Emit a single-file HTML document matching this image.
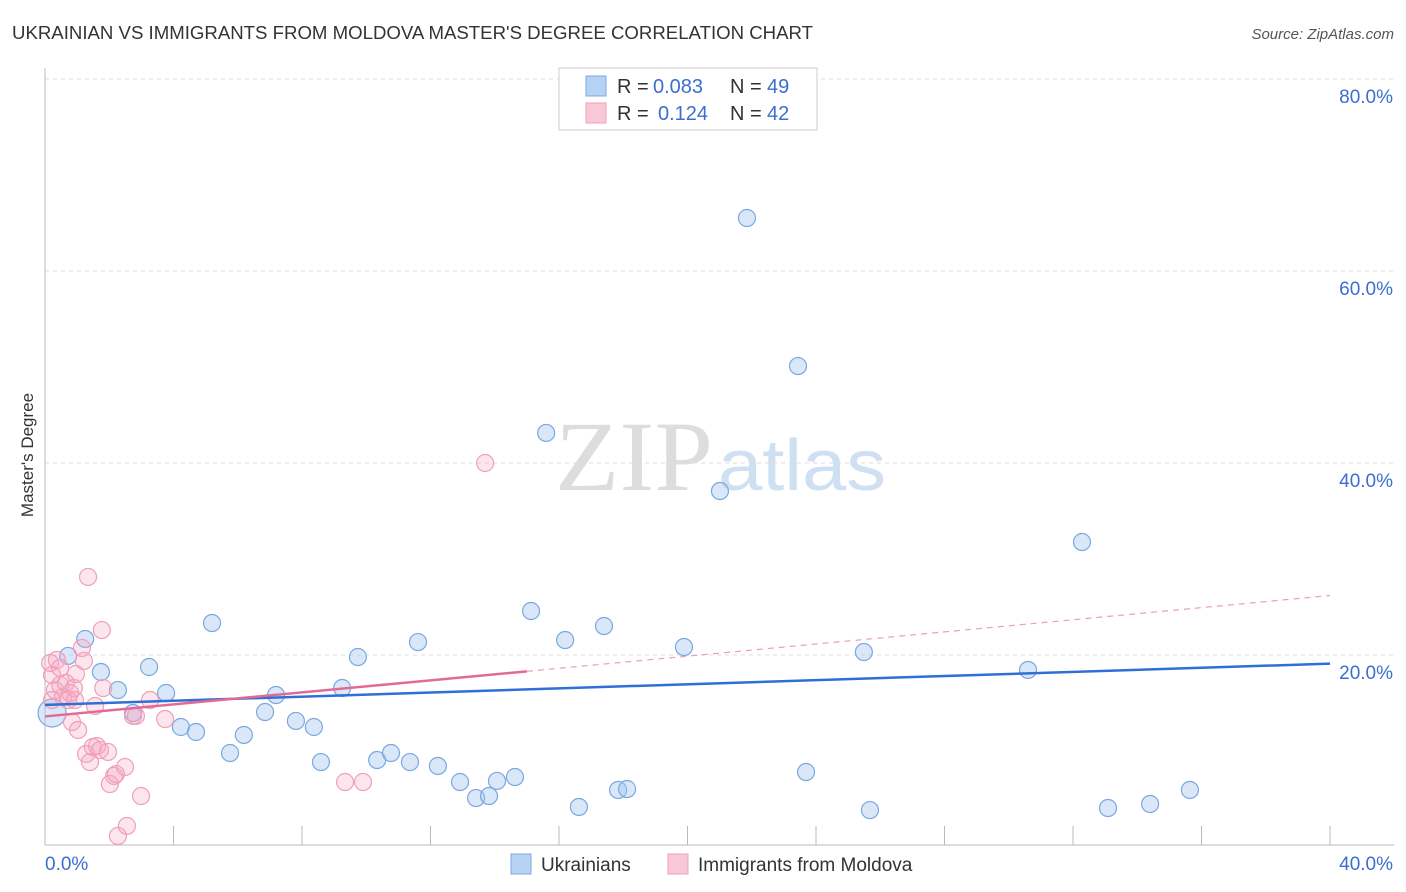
<!DOCTYPE html>
<html><head><meta charset="utf-8"><style>
body{margin:0;background:#fff;font-family:"Liberation Sans",sans-serif}
svg{display:block}
</style></head><body>
<svg id="c" width="1406" height="892">
<text x="12" y="39" font-size="18" fill="#333" textLength="801" lengthAdjust="spacingAndGlyphs">UKRAINIAN VS IMMIGRANTS FROM MOLDOVA MASTER'S DEGREE CORRELATION CHART</text>
<text x="1394" y="39" font-size="15" fill="#555" font-style="italic" text-anchor="end">Source: ZipAtlas.com</text>
<text x="0" y="0" transform="translate(33,455) rotate(-90)" font-size="17" fill="#333" text-anchor="middle">Master's Degree</text>
<g><text x="634" y="490" font-size="100" fill="#ddd" font-family="Liberation Serif" text-anchor="middle" textLength="158" lengthAdjust="spacingAndGlyphs">ZIP</text><text x="802" y="490" font-size="72" fill="#cfe0f3" text-anchor="middle" textLength="168" lengthAdjust="spacingAndGlyphs">atlas</text></g>
<g id="grid"></g><g id="marks"></g>
<g>
<rect x="559" y="68" width="258" height="62" fill="#fff" stroke="#ccc"/>
<rect x="586" y="76" width="20" height="20" fill="#b8d2f4" stroke="#7aa8e0"/>
<text x="617" y="93" font-size="20" fill="#333">R =</text>
<text x="653" y="93" font-size="20" fill="#3a6fd0">0.083</text>
<text x="730" y="93" font-size="20" fill="#333">N =</text>
<text x="767" y="93" font-size="20" fill="#3a6fd0">49</text>
<rect x="586" y="103" width="20" height="20" fill="#f8c8d6" stroke="#f0a0b8"/>
<text x="617" y="120" font-size="20" fill="#333">R =</text>
<text x="658" y="120" font-size="20" fill="#3a6fd0">0.124</text>
<text x="730" y="120" font-size="20" fill="#333">N =</text>
<text x="767" y="120" font-size="20" fill="#3a6fd0">42</text>
</g>
<g>
<rect x="511" y="854" width="20" height="20" fill="#b8d2f4" stroke="#7aa8e0"/>
<text x="541" y="871" font-size="19" fill="#333">Ukrainians</text>
<rect x="668" y="854" width="20" height="20" fill="#f8c8d6" stroke="#f0a0b8"/>
<text x="698" y="871" font-size="19" fill="#333">Immigrants from Moldova</text>
</g>
</svg>
<script>
const blueX=[0.22,0.72,1.25,1.74,2.27,2.74,3.24,3.77,4.23,4.70,5.20,5.76,6.19,6.85,7.19,7.81,8.37,8.59,9.25,9.74,10.34,10.77,11.36,11.61,12.23,12.92,13.42,13.82,14.07,14.63,15.13,15.60,16.19,16.62,17.40,17.84,18.12,19.89,21.01,21.85,23.44,23.69,25.49,25.68,30.60,32.28,33.09,34.40,35.64];
const blueY=[13.96,19.9,21.67,18.23,16.35,13.96,18.75,16.04,12.5,11.98,23.33,9.79,11.67,14.06,15.83,13.13,12.5,8.85,16.56,19.79,9.06,9.79,8.85,21.35,8.44,6.77,5.10,5.31,6.88,7.29,24.58,43.13,21.56,4.17,23.02,5.94,6.04,20.83,37.08,65.52,50.1,7.81,20.31,3.85,18.44,31.77,4.06,4.48,5.94];
const pinkX=[0.16,0.22,0.31,0.37,0.47,0.56,0.65,0.78,0.84,0.9,0.96,1.03,1.15,1.21,1.28,1.34,1.40,1.49,1.56,1.62,1.71,1.77,1.81,1.96,2.02,2.15,2.21,2.27,2.49,2.55,2.74,2.83,2.99,3.27,3.74,9.34,9.9,13.7,0.22,0.47,0.72,0.93];
const pinkY=[19.17,17.92,16.35,19.48,16.88,15.63,17.08,16.04,13.02,16.56,18.02,12.19,20.73,19.38,9.69,28.13,8.85,10.42,14.69,10.52,10.1,22.6,16.56,9.9,6.56,7.4,7.6,1.15,8.33,2.19,13.65,13.65,5.31,15.31,13.33,6.77,6.77,40.0,15.31,18.65,15.31,15.31];
const yTicks=[20,40,60,80];
const blueTrend=[[0,14.8],[40,19.1]];
const pinkTrend=[[0,13.6],[15,18.3],[40,26.2]];
const sx=v=>45+v/40*1285, sy=v=>847-v*9.6;
const NS='http://www.w3.org/2000/svg';
function mk(p,t,a){const e=document.createElementNS(NS,t);for(const k in a)e.setAttribute(k,a[k]);p.appendChild(e);return e;}
const g=document.getElementById('grid'),m=document.getElementById('marks');
yTicks.forEach(t=>{const l=mk(g,'line',{x1:45,x2:1394,y1:sy(t),y2:sy(t),stroke:'#ddd','stroke-dasharray':'4,4'});


const tx=mk(g,'text',{x:1393,y:sy(t)+24,'font-size':19,fill:'#3a6fd0','text-anchor':'end'});tx.textContent=t.toFixed(1)+'%';

});
mk(g,'line',{x1:45,x2:45,y1:68,y2:845,stroke:'#bbb'});
mk(g,'line',{x1:45,x2:1394,y1:845,y2:845,stroke:'#bbb'});
for(let i=1;i<=10;i++){mk(g,'line',{x1:sx(i*4),x2:sx(i*4),y1:826,y2:845,stroke:'#bbb'});}
[[0,'0.0%','start',45],[40,'40.0%','end',1393]].forEach(a=>{const t=mk(g,'text',{x:a[3],y:870,'font-size':19,fill:'#3a6fd0','text-anchor':a[2]});t.textContent=a[1];

});
blueX.forEach((x,i)=>{const c=mk(m,'circle',{cx:sx(x),cy:sy(blueY[i]),r:i==0?14:8.5,fill:'rgba(160,196,240,0.4)',stroke:'#7aa8e0','stroke-width':1.2});

});
pinkX.forEach((x,i)=>{const c=mk(m,'circle',{cx:sx(x),cy:sy(pinkY[i]),r:8.5,fill:'rgba(245,170,195,0.3)',stroke:'#f0a0b8','stroke-width':1.2});

});
const bl=mk(m,'line',{x1:sx(blueTrend[0][0]),y1:sy(blueTrend[0][1]),x2:sx(blueTrend[1][0]),y2:sy(blueTrend[1][1]),stroke:'#2f6fd6','stroke-width':2.5});


const pl=mk(m,'line',{x1:sx(pinkTrend[0][0]),y1:sy(pinkTrend[0][1]),x2:sx(pinkTrend[1][0]),y2:sy(pinkTrend[1][1]),stroke:'#e46a96','stroke-width':2.5});


const pd=mk(m,'line',{x1:sx(pinkTrend[1][0]),y1:sy(pinkTrend[1][1]),x2:sx(pinkTrend[2][0]),y2:sy(pinkTrend[2][1]),stroke:'#e8a0b8','stroke-width':1.2,'stroke-dasharray':'6,5'});


</script>
</body></html>
